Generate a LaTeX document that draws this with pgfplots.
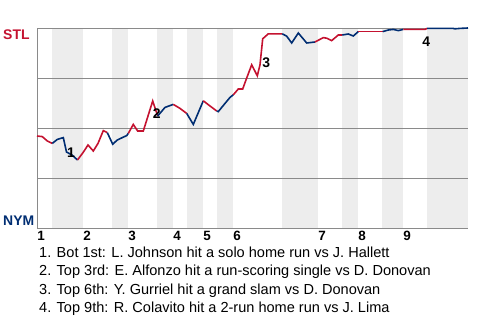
\documentclass[border=0pt]{standalone}
\usepackage{pgfplots}
\pgfplotsset{compat=1.18}
\usepackage{fontspec}
\setmainfont{Liberation Sans}
\definecolor{stl}{RGB}{196,18,48}
\definecolor{nym}{RGB}{0,45,114}
\definecolor{band}{RGB}{237,237,237}
\definecolor{gridc}{RGB}{138,138,138}
\begin{document}
\begin{tikzpicture}
\useasboundingbox (-37bp,-92bp) rectangle (443bp,228bp);
\begin{axis}[
  at={(0,0)}, anchor=south west,
  width=431bp, height=200bp, scale only axis,
  xmin=37, xmax=468, ymin=0, ymax=100,
  axis line style={draw=none},
  ytick=\empty,
  xtick={41,87,132,177,207,237,322,362,407},
  xticklabels={1,2,3,4,5,6,7,8,9},
  major tick length=0,
  x tick label style={font=\fontsize{13.5}{14}\selectfont\bfseries, anchor=north, yshift=0bp},
  clip=false,
]
% bottom-half innings bands
\addplot[draw=none, fill=band] coordinates {(52,100)(83,100)} \closedcycle;
\addplot[draw=none, fill=band] coordinates {(112,100)(128,100)} \closedcycle;
\addplot[draw=none, fill=band] coordinates {(157,100)(173,100)} \closedcycle;
\addplot[draw=none, fill=band] coordinates {(187,100)(203,100)} \closedcycle;
\addplot[draw=none, fill=band] coordinates {(217,100)(233,100)} \closedcycle;
\addplot[draw=none, fill=band] coordinates {(282,100)(318,100)} \closedcycle;
\addplot[draw=none, fill=band] coordinates {(342,100)(358,100)} \closedcycle;
\addplot[draw=none, fill=band] coordinates {(382,100)(403,100)} \closedcycle;
\addplot[draw=none, fill=band] coordinates {(427,100)(468,100)} \closedcycle;
% grid lines
\draw[gridc, line width=0.9bp] (axis cs:37,0) -- (axis cs:468,0);
\draw[gridc, line width=0.9bp] (axis cs:37,25) -- (axis cs:468,25);
\draw[gridc, line width=0.9bp] (axis cs:37,50) -- (axis cs:468,50);
\draw[gridc, line width=0.9bp] (axis cs:37,75) -- (axis cs:468,75);
\draw[gridc, line width=0.9bp] (axis cs:37,100) -- (axis cs:468,100);
\draw[gridc, line width=0.9bp] (axis cs:37,0) -- (axis cs:37,100);
% win probability line
\addplot[stl, line width=1.6bp] coordinates {(37,46)(42.3,45.7)(47.3,43.5)(52.3,42.3)};
\addplot[nym, line width=1.6bp] coordinates {(52.3,42.3)(57.3,44.3)(63.3,45.2)(66.5,38)(72,36.5)(77.5,34)};
\addplot[stl, line width=1.6bp] coordinates {(77.5,34)(83.3,37.9)(88,41.5)(93.3,38.5)(98,42.3)(103.3,48.7)(107.3,47.7)};
\addplot[nym, line width=1.6bp] coordinates {(107.3,47.7)(112.7,41.9)(117.3,44)(122.3,45.2)(126.7,46.2)(128.3,47.3)};
\addplot[stl, line width=1.6bp] coordinates {(128.3,47.3)(133.3,51.8)(137.7,48.5)(143.3,48.5)(152.7,63.5)(157.7,56)};
\addplot[nym, line width=1.6bp] coordinates {(157.7,56)(165,60.3)(173.3,61.8)};
\addplot[stl, line width=1.6bp] coordinates {(173.3,61.8)(180,59.8)(186.7,57.3)};
\addplot[nym, line width=1.6bp] coordinates {(186.7,57.3)(193.3,51.8)(203.3,63.6)};
\addplot[stl, line width=1.6bp] coordinates {(203.3,63.6)(210,61)(216.7,58.5)};
\addplot[nym, line width=1.6bp] coordinates {(216.7,58.5)(218.3,58.2)(225,62.3)(230,65.3)(233.3,66.6)};
\addplot[stl, line width=1.6bp] coordinates {(233.3,66.6)(238.3,69.5)(242.7,69.5)(246.7,75)(251.7,81.6)(257.3,76.1)(260,81.6)(262.7,94.6)(268.3,97.1)(282.3,97.1)};
\addplot[nym, line width=1.6bp] coordinates {(282.3,97.1)(286.7,95.9)(291.7,92.5)(298.3,97.5)(306.7,92.5)(315,93)};
\addplot[stl, line width=1.6bp] coordinates {(315,93)(323.3,95.2)(326.7,94.9)(331.7,93.7)(338.3,96.5)(342.3,96.5)};
\addplot[nym, line width=1.6bp] coordinates {(342.3,96.5)(348.3,97)(353.3,96)(358.3,98.2)};
\addplot[stl, line width=1.6bp] coordinates {(358.3,98.2)(382.7,98.2)};
\addplot[nym, line width=1.6bp] coordinates {(382.7,98.2)(388.3,99)(393.3,99.3)(398.3,98.7)(403.3,99.3)};
\addplot[stl, line width=1.6bp] coordinates {(403.3,99.3)(425,99.3)(427,99.8)};
\addplot[nym, line width=1.6bp] coordinates {(427,99.8)(453,99.8)(455,99.6)(460,99.8)(468,100)};
% event markers
\node[font=\fontsize{14}{14}\selectfont\bfseries, inner sep=0] at (axis cs:71,37.6) {1};
\node[font=\fontsize{14}{14}\selectfont\bfseries, inner sep=0] at (axis cs:156.7,57) {2};
\node[font=\fontsize{14}{14}\selectfont\bfseries, inner sep=0] at (axis cs:266.3,82.5) {3};
\node[font=\fontsize{14}{14}\selectfont\bfseries, inner sep=0] at (axis cs:426.3,93.3) {4};
% team labels
\node[anchor=west, inner sep=0, text=stl, font=\fontsize{14}{14}\selectfont\bfseries] at (axis cs:37,100) [xshift=-34bp, yshift=-6.3bp] {STL};
\node[anchor=west, inner sep=0, text=nym, font=\fontsize{14}{14}\selectfont\bfseries] at (axis cs:37,0) [xshift=-34bp, yshift=7.5bp] {NYM};
% notes
\node[anchor=base west, inner sep=0, font=\fontsize{14.6}{16}\selectfont] at (axis cs:37,0) [xshift=2bp, yshift=-29.5bp] {1. Bot 1st: L. Johnson hit a solo home run vs J. Hallett};
\node[anchor=base west, inner sep=0, font=\fontsize{14.6}{16}\selectfont] at (axis cs:37,0) [xshift=2bp, yshift=-47.8bp] {2. Top 3rd: E. Alfonzo hit a run-scoring single vs D. Donovan};
\node[anchor=base west, inner sep=0, font=\fontsize{14.6}{16}\selectfont] at (axis cs:37,0) [xshift=2bp, yshift=-66bp] {3. Top 6th: Y. Gurriel hit a grand slam vs D. Donovan};
\node[anchor=base west, inner sep=0, font=\fontsize{14.6}{16}\selectfont] at (axis cs:37,0) [xshift=2bp, yshift=-84.3bp] {4. Top 9th: R. Colavito hit a 2-run home run vs J. Lima};
\end{axis}
\end{tikzpicture}
\end{document}
